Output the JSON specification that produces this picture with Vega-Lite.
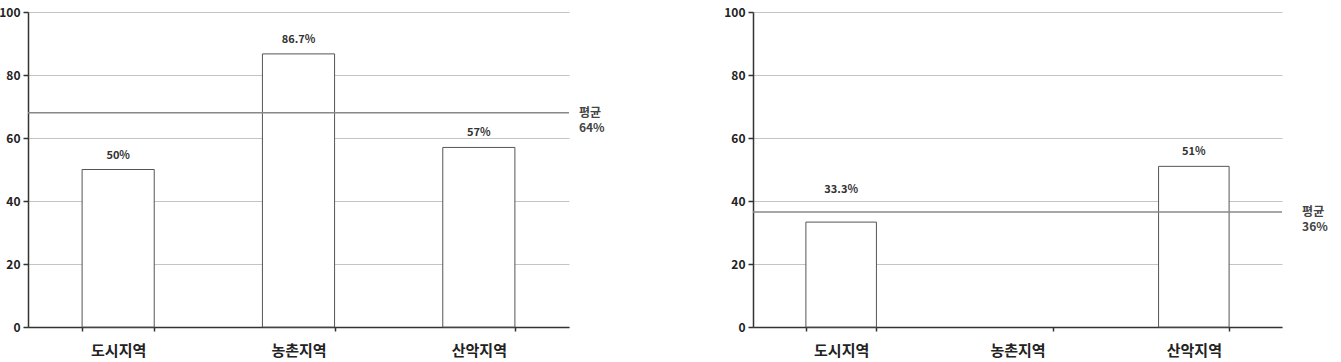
{
  "$schema": "https://vega.github.io/schema/vega-lite/v6.json",
  "padding": {"left": -2, "top": 6, "right": 0, "bottom": 0},
  "spacing": 118,
  "datasets": {
    "a": [
      {"region": "도시지역", "value": 50, "lbl": "50%"},
      {"region": "농촌지역", "value": 86.7, "lbl": "86.7%"},
      {"region": "산악지역", "value": 57, "lbl": "57%"}
    ],
    "aMean": [{"region": "산악지역", "avg": 68, "lbl": "평균\n64%"}],
    "b": [
      {"region": "도시지역", "value": 33.3, "lbl": "33.3%"},
      {"region": "산악지역", "value": 51, "lbl": "51%"}
    ],
    "bMean": [{"region": "산악지역", "avg": 36.5, "lbl": "평균\n36%"}]
  },
  "config": {
    "view": {"stroke": null},
    "font": "Noto Sans CJK KR",
    "axisX": {
      "domainColor": "#333", "domainWidth": 1.5, "tickColor": "#333", "tickWidth": 1.5, "tickSize": 4,
      "tickBand": "extent", "labelFontSize": 15, "labelFontWeight": "bold", "labelColor": "#222",
      "labelPadding": 12, "labelAngle": 0, "title": null, "grid": false
    },
    "axisY": {
      "grid": true, "gridColor": "#c4c4c4", "gridWidth": 1,
      "domainColor": "#333", "domainWidth": 1.5, "tickColor": "#333", "tickWidth": 1.5, "tickSize": 5,
      "labelFontSize": 12, "labelFontWeight": "bold", "labelColor": "#222", "labelPadding": 3, "title": null
    }
  },
  "hconcat": [
    {
      "width": 541, "height": 315,
      "layer": [
        {
          "data": {"name": "a"},
          "mark": {"type": "bar", "fill": "white", "stroke": "#555", "strokeWidth": 1},
          "encoding": {
            "x": {"field": "region", "type": "nominal", "sort": null, "scale": {"domain": ["도시지역", "농촌지역", "산악지역"], "paddingInner": 0.6, "paddingOuter": 0.3}},
            "y": {"field": "value", "type": "quantitative", "scale": {"domain": [0, 100]}, "axis": {"values": [0, 20, 40, 60, 80, 100]}}
          }
        },
        {
          "data": {"name": "a"},
          "mark": {"type": "text", "dy": -14, "fontSize": 11, "fontWeight": "bold", "color": "#333"},
          "encoding": {
            "x": {"field": "region", "type": "nominal", "sort": null},
            "y": {"field": "value", "type": "quantitative"},
            "text": {"field": "lbl"}
          }
        },
        {
          "data": {"name": "aMean"},
          "mark": {"type": "rule", "color": "#888", "strokeWidth": 1.5},
          "encoding": {"y": {"field": "avg", "type": "quantitative"}}
        },
        {
          "data": {"name": "aMean"},
          "mark": {"type": "text", "lineBreak": "\n", "align": "left", "baseline": "middle", "dx": 64, "fontSize": 12, "fontWeight": "bold", "color": "#444", "lineHeight": 15},
          "encoding": {
            "x": {"field": "region", "type": "nominal", "sort": null, "bandPosition": 1},
            "y": {"field": "avg", "type": "quantitative"},
            "text": {"field": "lbl"}
          }
        }
      ]
    },
    {
      "width": 529, "height": 315,
      "layer": [
        {
          "data": {"name": "b"},
          "mark": {"type": "bar", "fill": "white", "stroke": "#555", "strokeWidth": 1},
          "encoding": {
            "x": {"field": "region", "type": "nominal", "sort": null, "scale": {"domain": ["도시지역", "농촌지역", "산악지역"], "paddingInner": 0.6, "paddingOuter": 0.3}},
            "y": {"field": "value", "type": "quantitative", "scale": {"domain": [0, 100]}, "axis": {"values": [0, 20, 40, 60, 80, 100]}}
          }
        },
        {
          "data": {"name": "b"},
          "transform": [{"filter": "datum.value >= 40"}],
          "mark": {"type": "text", "dy": -14, "fontSize": 11, "fontWeight": "bold", "color": "#333"},
          "encoding": {
            "x": {"field": "region", "type": "nominal", "sort": null},
            "y": {"field": "value", "type": "quantitative"},
            "text": {"field": "lbl"}
          }
        },
        {
          "data": {"name": "b"},
          "transform": [{"filter": "datum.value < 40"}],
          "mark": {"type": "text", "dy": -32, "fontSize": 11, "fontWeight": "bold", "color": "#333"},
          "encoding": {
            "x": {"field": "region", "type": "nominal", "sort": null},
            "y": {"field": "value", "type": "quantitative"},
            "text": {"field": "lbl"}
          }
        },
        {
          "data": {"name": "bMean"},
          "mark": {"type": "rule", "color": "#888", "strokeWidth": 1.5},
          "encoding": {"y": {"field": "avg", "type": "quantitative"}}
        },
        {
          "data": {"name": "bMean"},
          "mark": {"type": "text", "lineBreak": "\n", "align": "left", "baseline": "middle", "dx": 73, "fontSize": 12, "fontWeight": "bold", "color": "#444", "lineHeight": 15},
          "encoding": {
            "x": {"field": "region", "type": "nominal", "sort": null, "bandPosition": 1},
            "y": {"field": "avg", "type": "quantitative"},
            "text": {"field": "lbl"}
          }
        }
      ]
    }
  ]
}
